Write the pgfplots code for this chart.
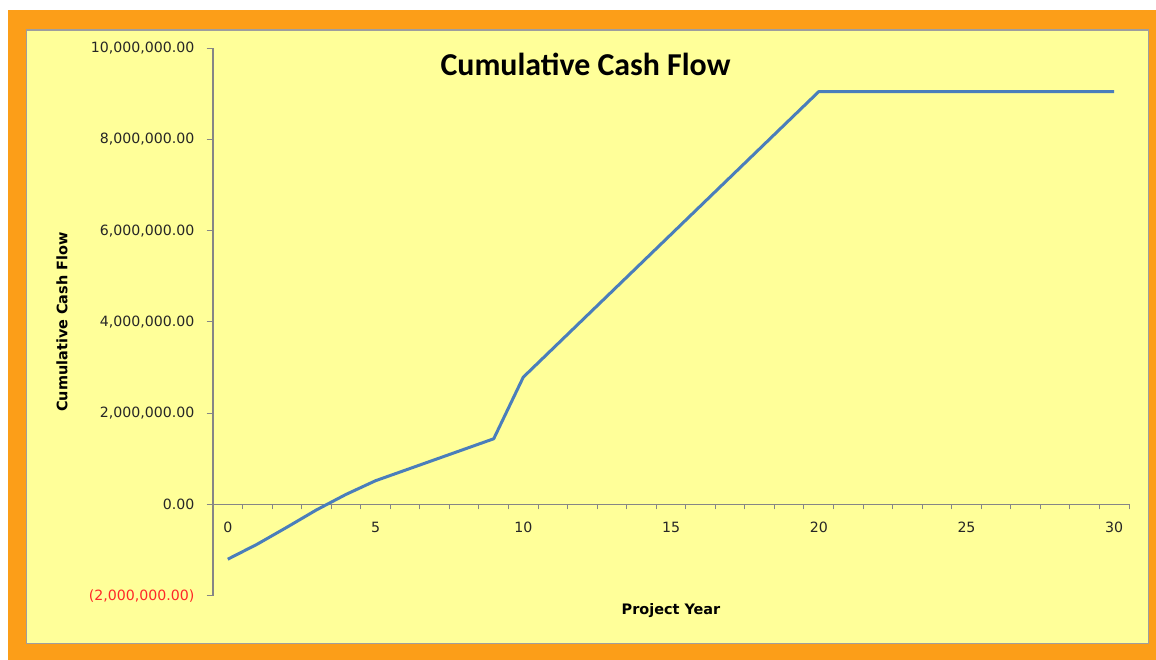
\documentclass[border=0pt]{standalone}
\usepackage{pgfplots}
\pgfplotsset{compat=1.18}
\usepackage{fontspec}
\setmainfont{DejaVu Sans}
\newfontfamily\carlito{Carlito}
\definecolor{bgyellow}{RGB}{255,255,153}
\definecolor{frameorange}{RGB}{252,158,24}
\definecolor{axgray}{RGB}{134,134,134}
\definecolor{serieblue}{RGB}{74,126,187}
\definecolor{negred}{RGB}{255,40,40}
\begin{document}
\begin{tikzpicture}[x=1bp,y=1bp]
\useasboundingbox (0,0) rectangle (1156,660);
\fill[white] (0,0) rectangle (1156,660);
\fill[frameorange] (8,0) rectangle (1156,650);
\filldraw[fill=bgyellow, draw=axgray!80, line width=1.2bp] (26.5,16.7) rectangle (1148.3,630);
\begin{axis}[
  at={(213bp,64.3bp)}, anchor=south west,
  scale only axis, width=916bp, height=547.4bp,
  xmin=-0.5, xmax=30.5, ymin=-2000000, ymax=10000000,
  axis y line=left, axis x line=middle,
  axis line style={draw=axgray, line width=1.2bp, -},
  x axis line style={-}, y axis line style={-},
  hide obscured x ticks=false, hide obscured y ticks=false,
  xtick={0,5,10,15,20,25,30},
  xticklabels={0,5,10,15,20,25,30},
  minor xtick={0.5,1.5,...,30.5},
  major x tick style={draw=none},
  minor x tick style={draw=axgray, line width=1bp},
  major y tick style={draw=axgray, line width=1bp},
  tick align=outside, major tick length=6.5bp, minor tick length=5bp,
  ytick={-2000000,0,2000000,4000000,6000000,8000000,10000000},
  yticklabels={\textcolor{negred}{(2,000,000.00)},0.00,{2,000,000.00},{4,000,000.00},{6,000,000.00},{8,000,000.00},{10,000,000.00}},
  scaled y ticks=false,
  ticklabel style={font=\fontsize{14.2}{16}\selectfont, text=black!85},
  xticklabel style={yshift=-8bp},
  yticklabel style={xshift=-8.5bp},
  title={Cumulative Cash Flow},
  title style={at={(axis description cs:0.4067,0.9603)}, anchor=center, font=\carlito\bfseries\fontsize{32}{38}\selectfont},
  xlabel={Project Year},
  xlabel style={at={(axis description cs:0.5,-0.028)}, anchor=center, font=\bfseries\fontsize{14.5}{17}\selectfont},
  ylabel={Cumulative Cash Flow},
  ylabel style={at={(axis description cs:-0.1649,0.5)}, anchor=center, font=\bfseries\fontsize{14.5}{17}\selectfont},
]
\addplot[serieblue, line width=3bp, line join=round, no markers] coordinates {
(0,-1200000) (1,-870000) (2,-500000) (3,-120000) (4,220000) (5,520000)
(6,750000) (7,980000) (8,1210000) (9,1440000)
(10,2790000) (11,3416000) (12,4042000) (13,4668000) (14,5294000) (15,5920000)
(16,6546000) (17,7172000) (18,7798000) (19,8424000) (20,9050000)
(21,9050000) (22,9050000) (23,9050000) (24,9050000) (25,9050000)
(26,9050000) (27,9050000) (28,9050000) (29,9050000) (30,9050000)
};
\end{axis}
\end{tikzpicture}
\end{document}
